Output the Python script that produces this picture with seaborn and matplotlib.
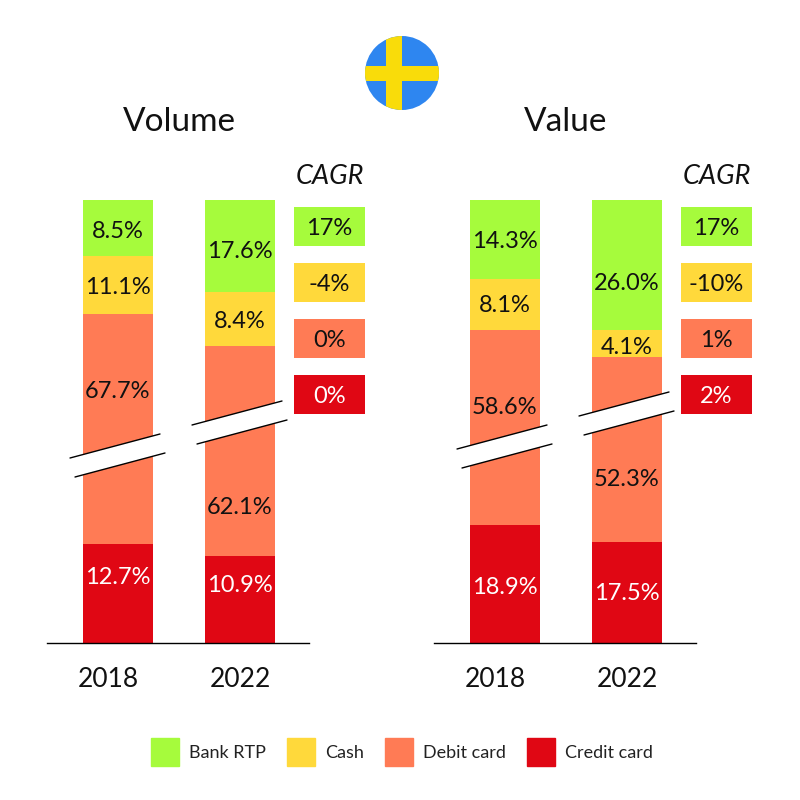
import pandas as pd
import matplotlib.pyplot as plt
from matplotlib.patches import Circle, Patch, Polygon, Rectangle
import seaborn as sns

# segment order is bottom to top
methods = ['Credit card', 'Debit card', 'Cash', 'Bank RTP']
colors = ['#E00714', '#FF7B55', '#FFD93B', '#A6FB3C']
years = ['2018', '2022']

# printed shares
vol_2018 = [12.7, 67.7, 11.1, 8.5]
vol_2022 = [10.9, 62.1, 8.4, 17.6]
val_2018 = [18.9, 58.6, 8.1, 14.3]
val_2022 = [17.5, 52.3, 4.1, 26.0]

# the bars are not to scale (broken axis), so drawn heights are read separately
vol_2018_h = [99, 230, 58, 56]
vol_2022_h = [87, 210, 54, 92]
val_2018_h = [118, 195, 51, 79]
val_2022_h = [101, 185, 27, 130]

# height of each label above the baseline
vol_2018_y = [65, 251, 355, 412]
vol_2022_y = [57, 135, 322, 391]
val_2018_y = [56, 236, 337, 402]
val_2022_y = [49, 164, 296, 360]

vol_cagr = ['17%', '-4%', '0%', '0%']
val_cagr = ['17%', '-10%', '1%', '2%']
cagr_colors = ['#A6FB3C', '#FFD93B', '#FF7B55', '#E00714']

sns.set_theme(style='white')
plt.rcParams['font.family'] = ['Lato', 'DejaVu Sans']

fig = plt.figure(figsize=(8, 8), dpi=100)


def px_axes(left, right, top, bottom):
    return fig.add_axes([left / 800, 1 - bottom / 800, (right - left) / 800, (bottom - top) / 800])


def stacked(ax, shares, heights, label_y, year):
    df = pd.DataFrame({'year': year, 'method': methods, 'share': shares, 'h': heights})
    bottom = 0
    for i, row in df.iterrows():
        sns.barplot(x=[year], y=[row['h']], order=years, color=colors[i], bottom=bottom,
                    width=0.574, saturation=1, linewidth=0, ax=ax)
        bottom += row['h']
        ax.text(years.index(year), label_y[i], f"{row['share']:.1f}%", ha='center', va='center',
                fontsize=17, color='white' if i == 0 else '#111111', zorder=5)


def panel(left, data_2018, h_2018, y_2018, data_2022, h_2022, y_2022):
    ax = px_axes(left, left + 262, 200, 643)
    stacked(ax, data_2018, h_2018, y_2018, '2018')
    stacked(ax, data_2022, h_2022, y_2022, '2022')
    ax.set_xlim(-0.582, 1.566)
    ax.set_ylim(0, 443)
    ax.set_yticks([])
    ax.set_xlabel('')
    ax.set_ylabel('')
    # the 2018 label sits a bit left of its bar in the original
    ax.set_xticks([-0.08, 1])
    ax.set_xticklabels(years, fontsize=19, color='#111111')
    ax.tick_params(axis='x', length=0, pad=17)
    for s in ['top', 'left', 'right']:
        ax.spines[s].set_visible(False)
    ax.spines['bottom'].set_color('black')
    ax.spines['bottom'].set_linewidth(1)
    ax.patch.set_alpha(0)
    return ax


panel(47, vol_2018, vol_2018_h, vol_2018_y, vol_2022, vol_2022_h, vol_2022_y)
panel(434, val_2018, val_2018_h, val_2018_y, val_2022, val_2022_h, val_2022_y)

# overlay in image pixels for flag, breaks, cagr boxes
top = fig.add_axes([0, 0, 1, 1])
top.set_xlim(0, 800)
top.set_ylim(800, 0)
top.axis('off')
top.patch.set_alpha(0)

top.text(179, 122, 'Volume', ha='center', va='center', fontsize=24, color='#111111')
top.text(566, 122, 'Value', ha='center', va='center', fontsize=24, color='#111111')


def axis_break(x, y):
    # x, y = left end of the upper line
    top.add_patch(Polygon([(x, y), (x + 90, y - 24), (x + 95, y - 5), (x + 5, y + 19)],
                          facecolor='white', edgecolor='none', zorder=6))
    top.plot([x, x + 90], [y, y - 24], color='black', lw=1, zorder=7)
    top.plot([x + 5, x + 95], [y + 19, y - 5], color='black', lw=1, zorder=7)


for bx, by in [(70, 458), (192, 425), (457, 449), (579, 416)]:
    axis_break(bx, by)

for x0, labels in [(294, vol_cagr), (681, val_cagr)]:
    top.text(x0 + 36, 176, 'CAGR', ha='center', va='center', fontsize=19.5, style='italic', color='#111111')
    for i, (lab, col) in enumerate(zip(labels, cagr_colors)):
        y0 = 206.5 + i * 56
        top.add_patch(Rectangle((x0, y0), 71, 39, facecolor=col, edgecolor='none'))
        top.text(x0 + 35.5, y0 + 22, lab, ha='center', va='center', fontsize=17,
                 color='white' if i == 3 else '#111111')

# flag
disc = Circle((402, 73), 37, facecolor='#2E86F0', edgecolor='none')
top.add_patch(disc)
for r in [Rectangle((386, 30), 16, 86, facecolor='#F9DC0A', edgecolor='none'),
          Rectangle((360, 66), 84, 15, facecolor='#F9DC0A', edgecolor='none')]:
    top.add_patch(r)
    r.set_clip_path(disc)

handles = [Patch(color=c, label=m) for m, c in zip(methods[::-1], colors[::-1])]
fig.legend(handles=handles, loc='center', bbox_to_anchor=(0.5025, 0.06), ncol=4, frameon=False,
           fontsize=13, handlelength=1.55, handleheight=2.0, handletextpad=0.55, columnspacing=1.16,
           labelcolor='#222222')

fig.savefig('out.png', dpi=100)
